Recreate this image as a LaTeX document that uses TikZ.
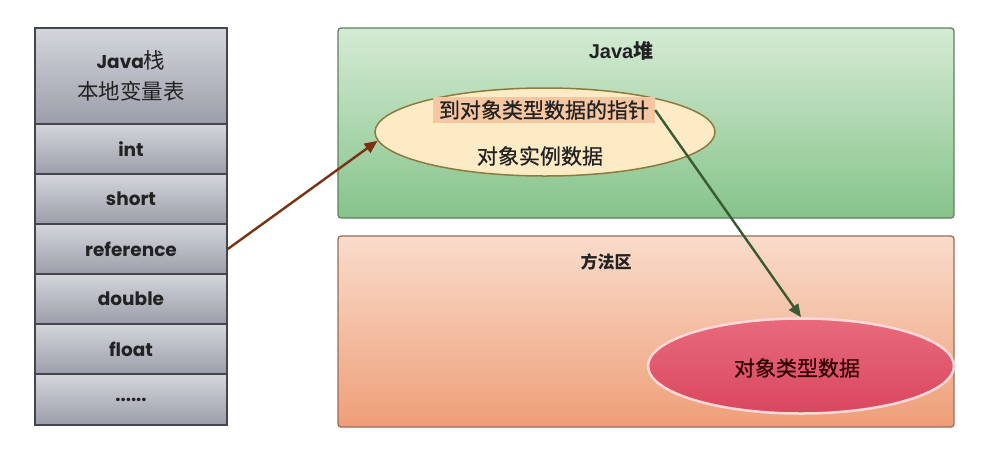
\documentclass[tikz,border=0pt]{standalone}
\usepackage{fontspec}
\newfontfamily\cjk{Noto Sans CJK SC}
\newfontfamily\cjkm{Noto Sans CJK SC}[FakeBold=0.8]
\newfontfamily\lat{Poppins}
\newfontfamily\ari{Liberation Sans}
\usetikzlibrary{arrows.meta,shapes.geometric}
\definecolor{cellTop}{HTML}{D4D6DC}
\definecolor{cellBot}{HTML}{9B9EA9}
\definecolor{cellLine}{HTML}{44464F}
\definecolor{greenTop}{HTML}{D4EBD4}
\definecolor{greenBot}{HTML}{86C38A}
\definecolor{greenLine}{HTML}{5F7F60}
\definecolor{orTop}{HTML}{F9DCCB}
\definecolor{orBot}{HTML}{EE9E78}
\definecolor{orLine}{HTML}{9A6A5A}
\definecolor{yelFill}{HTML}{FDEBC6}
\definecolor{yelLine}{HTML}{8C7A3E}
\definecolor{hiFill}{HTML}{F4C6A2}
\definecolor{redTop}{HTML}{E86A7C}
\definecolor{redBot}{HTML}{D9475E}
\definecolor{brownArr}{HTML}{7A3212}
\definecolor{greenArr}{HTML}{3A5A32}
\definecolor{txt}{HTML}{222222}
\tikzset{
  cell/.style={draw=cellLine, line width=1.6pt, top color=cellTop, bottom color=cellBot,
    minimum width=192pt, minimum height=50pt, inner sep=0pt, text=txt,
    font=\lat\bfseries\fontsize{18.5}{20}\selectfont},
  region/.style={rounded corners=3pt, line width=1.3pt},
  cjktext/.style={font=\cjkm\fontsize{21}{24}\selectfont, text=txt, inner sep=1pt},
  arr/.style={line width=2.4pt, -{Triangle[length=13pt,width=11pt]}}
}
\begin{document}
\begin{tikzpicture}[x=1pt,y=-1pt]
\useasboundingbox (0,0) rectangle (996,459);
% stack
\node[cell, minimum height=96pt, align=center, font=\cjk\fontsize{21.5}{31}\selectfont] (hdr) at (131,76)
  {{\lat\bfseries\fontsize{18.5}{20}\selectfont Java}{\cjk 栈}\\本地变量表};
\node[cell] (int) at (131,149) {int};
\node[cell] (short) at (131,199) {short};
\node[cell] (ref) at (131,249) {reference};
\node[cell] (dbl) at (131,299) {double};
\node[cell] (flt) at (131,349) {float};
\node[cell, minimum height=51pt] (dots) at (131,399.5) {......};
% regions
\node[region, draw=greenLine, top color=greenTop, bottom color=greenBot,
  minimum width=616pt, minimum height=190pt, inner sep=0pt] (heap) at (646,123) {};
\node[region, draw=orLine, top color=orTop, bottom color=orBot,
  minimum width=616pt, minimum height=191pt, inner sep=0pt] (meth) at (646,331.5) {};
\node[font=\cjk\bfseries\fontsize{20}{22}\selectfont, text=txt] (heapT) at (621,51)
  {{\ari\bfseries\fontsize{20}{22}\selectfont Java}堆};
\node[font=\cjk\bfseries\fontsize{17}{20}\selectfont, text=txt] (methT) at (606,262) {方法区};
% heap object
\node[ellipse, draw=yelLine, line width=1.5pt, fill=yelFill,
  minimum width=340pt, minimum height=88pt, inner sep=0pt] (obj) at (545,132) {};
\node[cjktext, fill=hiFill, minimum width=222pt, minimum height=26pt] (ptr) at (544,110) {到对象类型数据的指针};
\node[cjktext] (inst) at (540,156) {对象实例数据};
% method area object
\node[ellipse, draw=white!85!red, line width=2.5pt, top color=redTop, bottom color=redBot,
  minimum width=306pt, minimum height=95pt, inner sep=0pt] (cls) at (801,366) {};
\node[cjktext, text=black!80!red] (clsT) at (797,368) {对象类型数据};
% arrows
\draw[arr, brownArr] (ref.east) -- (obj.183);
\draw[arr, greenArr] (ptr.east) -- (cls.north);
\end{tikzpicture}
\end{document}
